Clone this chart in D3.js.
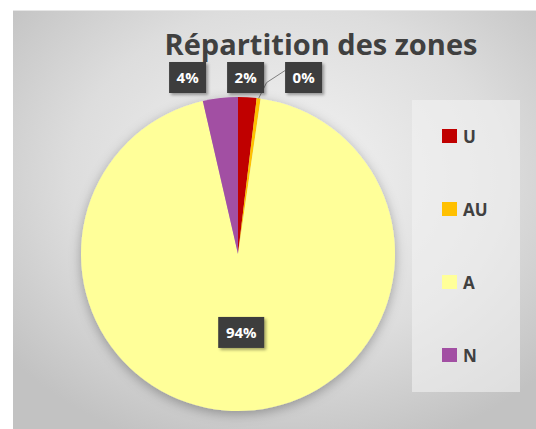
<!DOCTYPE html>
<html>
<head>
<meta charset="utf-8">
<script src="https://d3js.org/d3.v7.min.js"></script>
<style>
  body { margin: 0; background: #fff; }
  svg { display: block; }
</style>
</head>
<body>
<svg width="536" height="429"></svg>
<script>
// zones and their share of the area (%)
var zones = ["U", "AU", "A", "N"];
var shares = [1.9, 0.4, 94.1, 3.6];
var colors = ["#c00000", "#ffc000", "#ffff99", "#a24fa3"];
var title = "Répartition des zones";

var svg = d3.select("svg");
var defs = svg.append("defs");

var bg = defs.append("radialGradient").attr("id", "bg")
  .attr("cx", "52%").attr("cy", "40%").attr("r", "68%");
bg.append("stop").attr("offset", "0%").attr("stop-color", "#f4f4f4");
bg.append("stop").attr("offset", "60%").attr("stop-color", "#dddddd");
bg.append("stop").attr("offset", "100%").attr("stop-color", "#c2c2c2");

var sh = defs.append("filter").attr("id", "pieShadow")
  .attr("x", "-20%").attr("y", "-20%").attr("width", "140%").attr("height", "140%");
sh.append("feDropShadow").attr("dx", 0).attr("dy", 3).attr("stdDeviation", 6)
  .attr("flood-color", "#000").attr("flood-opacity", 0.3);

var boxSh = defs.append("filter").attr("id", "boxShadow")
  .attr("x", "-30%").attr("y", "-30%").attr("width", "160%").attr("height", "160%");
boxSh.append("feDropShadow").attr("dx", 2).attr("dy", 2).attr("stdDeviation", 1.5)
  .attr("flood-color", "#000").attr("flood-opacity", 0.35);

// chart frame
svg.append("rect").attr("x", 13).attr("y", 10).attr("width", 523).attr("height", 419)
  .attr("fill", "url(#bg)");
svg.append("line").attr("x1", 13).attr("x2", 536).attr("y1", 10.5).attr("y2", 10.5)
  .attr("stroke", "#e6e6e6");

svg.append("text").attr("x", 321).attr("y", 55)
  .attr("text-anchor", "middle")
  .attr("font-family", "Open Sans, sans-serif").attr("font-weight", "bold")
  .attr("font-size", 29).attr("fill", "#404040")
  .text(title);

// legend panel
var legend = svg.append("g");
legend.append("rect").attr("x", 412).attr("y", 100).attr("width", 108).attr("height", 292)
  .attr("fill", "#f2f2f2").attr("fill-opacity", 0.6);

var ly = d3.scalePoint().domain(zones).range([136, 355]);
var items = legend.selectAll("g.item").data(zones).enter().append("g")
  .attr("transform", function(d) { return "translate(442," + ly(d) + ")"; });
items.append("rect").attr("x", 0).attr("y", -7).attr("width", 15).attr("height", 14)
  .attr("fill", function(d, i) { return colors[i]; });
items.append("text").attr("x", 21).attr("y", 6.5)
  .attr("font-family", "Open Sans, sans-serif").attr("font-weight", "bold")
  .attr("font-size", 17).attr("fill", "#404040")
  .text(function(d) { return d; });

// pie
var cx = 238, cy = 254, r = 157;
var pie = d3.pie().sort(null).value(function(d) { return d; });
var arcs = pie(shares);
var arc = d3.arc().innerRadius(0).outerRadius(r);

var g = svg.append("g").attr("transform", "translate(" + cx + "," + cy + ")");
g.append("g").attr("filter", "url(#pieShadow)")
  .selectAll("path").data(arcs).enter().append("path")
  .attr("d", arc)
  .attr("fill", function(d, i) { return colors[i]; });

// labels: big slice inside, small ones above the pie spread apart
var total = d3.sum(shares);
var fmt = function(v) { return Math.round(v / total * 100) + "%"; };
var labels = arcs.map(function(d, i) {
  var mid = (d.startAngle + d.endAngle) / 2;
  var inside = (d.endAngle - d.startAngle) > 0.5;
  var rr = inside ? r * 0.5 : r + 19;
  return { i: i, mid: mid, inside: inside,
    x: Math.sin(mid) * rr, y: -Math.cos(mid) * rr, text: fmt(d.value) };
});
var outside = labels.filter(function(l) { return !l.inside; })
  .sort(function(a, b) { return a.x - b.x; });
var gap = 58;
var c0 = d3.mean(outside, function(l) { return l.x; }) + 3;
outside.forEach(function(l, k) {
  l.tx = c0 + (k - (outside.length - 1) / 2) * gap;
  l.y = -r - 19.5;
});
labels.forEach(function(l) { if (l.inside) l.tx = l.x; });

// leader line for a label pushed away from its slice
outside.forEach(function(l) {
  if (Math.abs(l.tx - l.x) > 25 && l.tx > l.x) {
    var ex = Math.sin(l.mid) * r, ey = -Math.cos(l.mid) * r;
    g.append("polyline")
      .attr("points", [[ex, ey], [ex + 8, l.y + 5], [l.tx - 18.5, l.y - 7]].join(" "))
      .attr("fill", "none").attr("stroke", "#7f7f7f").attr("stroke-width", 1);
  }
});

var lab = g.selectAll("g.lab").data(labels).enter().append("g")
  .attr("transform", function(l) { return "translate(" + l.tx + "," + l.y + ")"; });
lab.append("rect")
  .attr("x", function(l) { return l.text.length > 2 ? -23 : -18.5; })
  .attr("y", -15.5)
  .attr("width", function(l) { return l.text.length > 2 ? 46 : 37; })
  .attr("height", 31)
  .attr("fill", "#3c3c3c")
  .attr("filter", "url(#boxShadow)");
lab.append("text").attr("text-anchor", "middle").attr("y", 5.5)
  .attr("font-family", "Open Sans, sans-serif").attr("font-weight", "bold")
  .attr("font-size", 15).attr("fill", "#fff")
  .text(function(l) { return l.text; });
</script>
</body>
</html>
